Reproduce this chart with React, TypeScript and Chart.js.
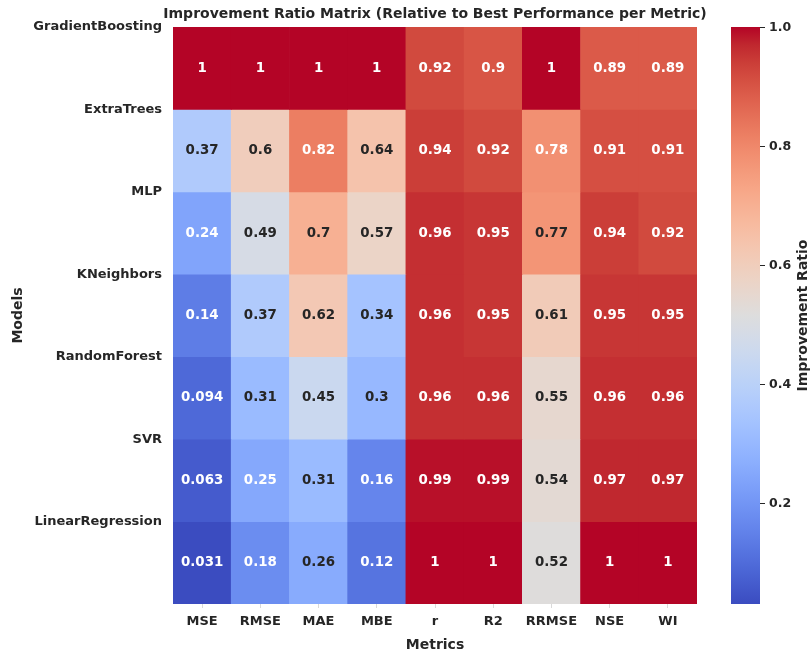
import React, { useEffect, useRef } from "react";
import { Chart, registerables } from "chart.js";

Chart.register(...registerables);

const metrics = ["MSE", "RMSE", "MAE", "MBE", "r", "R2", "RRMSE", "NSE", "WI"];
const models = ["GradientBoosting", "ExtraTrees", "MLP", "KNeighbors", "RandomForest", "SVR", "LinearRegression"];

const gradientBoosting = [1, 1, 1, 1, 0.92, 0.9, 1, 0.89, 0.89];
const extraTrees = [0.37, 0.6, 0.82, 0.64, 0.94, 0.92, 0.78, 0.91, 0.91];
const mlp = [0.24, 0.49, 0.7, 0.57, 0.96, 0.95, 0.77, 0.94, 0.92];
const kNeighbors = [0.14, 0.37, 0.62, 0.34, 0.96, 0.95, 0.61, 0.95, 0.95];
const randomForest = [0.094, 0.31, 0.45, 0.3, 0.96, 0.96, 0.55, 0.96, 0.96];
const svr = [0.063, 0.25, 0.31, 0.16, 0.99, 0.99, 0.54, 0.97, 0.97];
const linearRegression = [0.031, 0.18, 0.26, 0.12, 1, 1, 0.52, 1, 1];

const matrix = [gradientBoosting, extraTrees, mlp, kNeighbors, randomForest, svr, linearRegression];

const colorbarTicks = [0.2, 0.4, 0.6, 0.8, 1.0];
const vmin = 0.031;
const vmax = 1.0;

const TITLE = "Improvement Ratio Matrix (Relative to Best Performance per Metric)";
const TEXT = "#262626";
const FONT = "'DejaVu Sans', sans-serif";

// matplotlib coolwarm colormap
const coolwarm: number[][] = [
  [0, 59, 76, 192], [0.03125, 68, 90, 204], [0.0625, 77, 104, 215], [0.09375, 87, 117, 225],
  [0.125, 98, 130, 234], [0.15625, 108, 142, 241], [0.1875, 119, 154, 247], [0.21875, 130, 165, 251],
  [0.25, 141, 176, 254], [0.28125, 152, 185, 255], [0.3125, 163, 194, 255], [0.34375, 174, 201, 253],
  [0.375, 184, 208, 249], [0.40625, 194, 213, 244], [0.4375, 204, 217, 238], [0.46875, 213, 219, 230],
  [0.5, 221, 221, 221], [0.53125, 229, 216, 209], [0.5625, 236, 211, 197], [0.59375, 241, 204, 185],
  [0.625, 245, 196, 173], [0.65625, 247, 187, 160], [0.6875, 247, 177, 148], [0.71875, 247, 166, 135],
  [0.75, 244, 154, 123], [0.78125, 241, 141, 111], [0.8125, 236, 127, 99], [0.84375, 229, 112, 88],
  [0.875, 222, 96, 77], [0.90625, 213, 80, 66], [0.9375, 203, 62, 56], [0.96875, 192, 40, 47],
  [1, 180, 4, 38],
];

function cmapRGB(t: number): number[] {
  const x = Math.max(0, Math.min(1, t));
  for (let i = 1; i < coolwarm.length; i++) {
    if (x <= coolwarm[i][0]) {
      const a = coolwarm[i - 1];
      const b = coolwarm[i];
      const f = (x - a[0]) / (b[0] - a[0]);
      return [a[1] + (b[1] - a[1]) * f, a[2] + (b[2] - a[2]) * f, a[3] + (b[3] - a[3]) * f];
    }
  }
  const l = coolwarm[coolwarm.length - 1];
  return [l[1], l[2], l[3]];
}

function colorFor(v: number): string {
  const [r, g, b] = cmapRGB((v - vmin) / (vmax - vmin));
  return `rgb(${Math.round(r)},${Math.round(g)},${Math.round(b)})`;
}

function textColorFor(v: number): string {
  const rgb = cmapRGB((v - vmin) / (vmax - vmin)).map((c) => {
    const s = c / 255;
    return s <= 0.03928 ? s / 12.92 : Math.pow((s + 0.055) / 1.055, 2.4);
  });
  const lum = 0.2126 * rgb[0] + 0.7152 * rgb[1] + 0.0722 * rgb[2];
  return lum > 0.408 ? TEXT : "#ffffff";
}

function fmt(v: number): string {
  return String(Number(v.toPrecision(2)));
}

const annotationPlugin = {
  id: "annotations",
  afterDatasetsDraw(chart: any) {
    const ctx = chart.ctx;
    ctx.save();
    ctx.font = `bold 13.4px ${FONT}`;
    ctx.textAlign = "center";
    ctx.textBaseline = "middle";
    chart.data.datasets.forEach((ds: any, i: number) => {
      const meta = chart.getDatasetMeta(i);
      meta.data.forEach((el: any, j: number) => {
        const v = matrix[i][j];
        const cy = (el.y + el.base) / 2;
        ctx.fillStyle = textColorFor(v);
        ctx.fillText(fmt(v), el.x, cy);
      });
    });
    ctx.restore();
  },
};

const titlePlugin = {
  id: "axesTitle",
  afterDraw(chart: any) {
    const ctx = chart.ctx;
    const area = chart.chartArea;
    ctx.save();
    ctx.font = `bold 14px ${FONT}`;
    ctx.fillStyle = TEXT;
    ctx.textAlign = "center";
    ctx.textBaseline = "middle";
    ctx.fillText(TITLE, (area.left + area.right) / 2, area.top - 13);
    ctx.restore();
  },
};

const colorbarPlugin = {
  id: "colorbar",
  afterDraw(chart: any) {
    const cb = chart.scales.cb;
    if (!cb) return;
    const ctx = chart.ctx;
    const top = cb.getPixelForValue(vmax);
    const bottom = cb.getPixelForValue(vmin);
    const x0 = cb.left + 34;
    const w = 29;
    const grad = ctx.createLinearGradient(0, bottom, 0, top);
    coolwarm.forEach((s) => grad.addColorStop(s[0], `rgb(${s[1]},${s[2]},${s[3]})`));
    ctx.save();
    ctx.fillStyle = grad;
    ctx.fillRect(x0, top, w, bottom - top);
    ctx.strokeStyle = TEXT;
    ctx.lineWidth = 1;
    ctx.fillStyle = TEXT;
    ctx.font = `bold 12.5px ${FONT}`;
    ctx.textAlign = "left";
    ctx.textBaseline = "middle";
    cb.ticks.forEach((t: any) => {
      const y = Math.round(cb.getPixelForValue(t.value)) + 0.5;
      ctx.beginPath();
      ctx.moveTo(x0 + w, y);
      ctx.lineTo(x0 + w + 5, y);
      ctx.stroke();
      ctx.fillText(t.value.toFixed(1), x0 + w + 9, y);
    });
    ctx.translate(cb.left + 106, (top + bottom) / 2);
    ctx.rotate(-Math.PI / 2);
    ctx.textAlign = "center";
    ctx.font = `bold 14px ${FONT}`;
    ctx.fillText("Improvement Ratio", 0, 0);
    ctx.restore();
  },
};

export default function App() {
  const canvasRef = useRef<HTMLCanvasElement | null>(null);

  useEffect(() => {
    document.body.style.margin = "0";
    Chart.defaults.font.family = FONT;
    Chart.defaults.color = TEXT;
    const datasets = models.map((m, i) => ({
      label: m,
      data: metrics.map(() => [i, i + 1]),
      backgroundColor: matrix[i].map(colorFor),
      borderWidth: 0,
      grouped: false,
      barPercentage: 1,
      categoryPercentage: 1,
      yAxisID: "y",
    }));
    const chart = new Chart(canvasRef.current as HTMLCanvasElement, {
      type: "bar",
      data: { labels: metrics, datasets: datasets as any },
      options: {
        animation: false,
        responsive: true,
        maintainAspectRatio: false,
        layout: { padding: { top: 27, left: 0, right: 0, bottom: 0 } },
        plugins: {
          legend: { display: false },
          tooltip: { enabled: false },
          title: { display: false },
        },
        scales: {
          x: {
            type: "category",
            offset: true,
            grid: { display: true, drawOnChartArea: false, drawTicks: true, tickLength: 4, color: "#d9d9d9", offset: false },
            border: { display: false },
            ticks: { font: { size: 13, weight: "bold" }, color: TEXT, padding: 6, maxRotation: 0 },
            title: { display: true, text: "Metrics", font: { size: 14, weight: "bold" }, color: TEXT, padding: { top: 1.3, bottom: 1.3 } },
          },
          y: {
            type: "linear",
            position: "left",
            min: 0,
            max: models.length,
            reverse: true,
            grid: { display: false, drawTicks: false },
            border: { display: false },
            afterBuildTicks: (s: any) => {
              s.ticks = models.map((_, i) => ({ value: i }));
            },
            afterFit: (s: any) => {
              s.width = 173;
            },
            ticks: {
              font: { size: 13, weight: "bold" },
              color: TEXT,
              padding: 11,
              autoSkip: false,
              callback: (v: any) => models[v as number] ?? "",
            },
            title: { display: true, text: "Models", font: { size: 14, weight: "bold" }, color: TEXT, padding: { top: 9.6, bottom: 0 } },
          },
          cb: {
            type: "linear",
            position: "right",
            min: vmin,
            max: vmax,
            grid: { display: false, drawTicks: false },
            border: { display: false },
            ticks: { display: false },
            afterBuildTicks: (s: any) => {
              s.ticks = colorbarTicks.map((v) => ({ value: v }));
            },
            afterFit: (s: any) => {
              s.width = 114;
            },
          },
        },
      } as any,
      plugins: [annotationPlugin, colorbarPlugin, titlePlugin],
    });
    return () => chart.destroy();
  }, []);

  return (
    <div style={{ position: "relative", width: 811, height: 655 }}>
      <canvas ref={canvasRef} />
    </div>
  );
}
